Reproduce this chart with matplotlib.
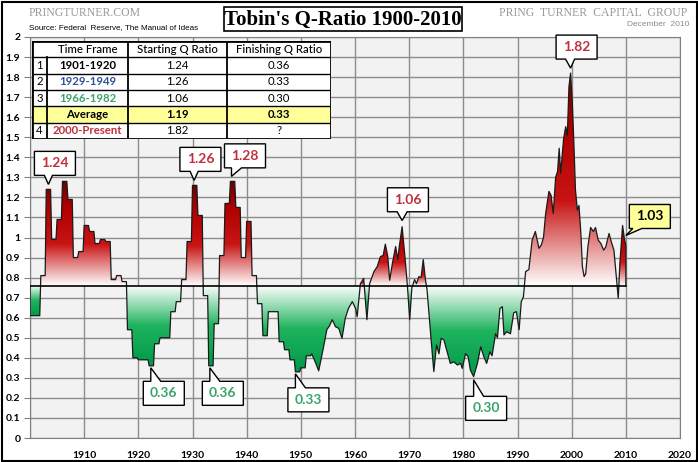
import numpy as np
import matplotlib
matplotlib.use("Agg")
import matplotlib.pyplot as plt
from matplotlib.colors import LinearSegmentedColormap
from matplotlib.patches import Rectangle, Polygon

plt.rcParams['font.family'] = ['Lato', 'DejaVu Sans']

# годовые значения Q, 1900-1951
annual_years = np.arange(1900, 1952)
annual_q = [0.61, 0.61, 0.81, 1.24, 0.99, 1.09, 1.28, 1.19, 0.90, 0.93,
            1.06, 1.03, 0.97, 0.99, 0.98, 0.79, 0.81, 0.78, 0.54, 0.40,
            0.39, 0.39, 0.36, 0.47, 0.50, 0.50, 0.63, 0.68, 0.79, 0.98,
            1.26, 1.11, 0.71, 0.36, 0.57, 0.91, 1.17, 1.28, 1.15, 0.90,
            1.08, 0.81, 0.67, 0.51, 0.63, 0.63, 0.48, 0.44, 0.39, 0.33,
            0.35, 0.41]

# более частые значения, 1952-2010
recent_years = [1952.0, 1952.5, 1953.3, 1954.2, 1954.8, 1955.3, 1955.8, 1956.4, 1957.0, 1957.6,
                1958.2, 1958.8, 1959.5, 1960.1, 1960.4, 1961.0, 1961.6, 1962.2, 1962.7, 1963.5,
                1964.1, 1964.7, 1965.2, 1965.6, 1966.05, 1966.4, 1966.9, 1967.5, 1967.9, 1968.15,
                1968.7, 1969.3, 1969.7, 1970.1, 1970.5, 1971.0, 1971.35, 1971.8, 1972.2, 1972.6,
                1973.0, 1973.3, 1973.9, 1974.55, 1975.05, 1975.5, 1975.9, 1976.4, 1977.0, 1977.6,
                1978.25, 1978.9, 1979.5, 1979.8, 1980.4, 1980.9, 1981.3, 1981.9, 1982.6, 1983.2,
                1983.8, 1984.3, 1984.9, 1985.3, 1985.95, 1986.3, 1986.75, 1987.2, 1987.5, 1988.0,
                1988.7, 1989.3, 1989.8, 1990.3, 1990.7, 1991.1, 1991.5, 1992.1, 1992.7, 1993.3,
                1993.96, 1994.4, 1994.8, 1995.2, 1995.8, 1996.2, 1996.6, 1997.04, 1997.4, 1997.7,
                1997.97, 1998.5, 1998.9, 1999.2, 1999.5, 1999.8, 2000.1, 2000.4, 2000.7, 2001.05,
                2001.35, 2001.7, 2001.98, 2002.3, 2002.6, 2003.0, 2003.5, 2004.0, 2004.4, 2004.9,
                2005.4, 2005.9, 2006.3, 2006.9, 2007.3, 2007.8, 2008.3, 2008.6, 2008.9, 2009.4,
                2009.7, 2010.0]
recent_q = [0.42, 0.39, 0.335, 0.455, 0.54, 0.56, 0.59, 0.555, 0.547, 0.497,
            0.597, 0.647, 0.68, 0.647, 0.605, 0.77, 0.796, 0.59, 0.77, 0.83,
            0.855, 0.905, 0.91, 0.967, 0.905, 0.787, 0.87, 0.955, 0.89, 0.95,
            1.054, 0.88, 0.75, 0.59, 0.75, 0.79, 0.77, 0.805, 0.80, 0.89,
            0.79, 0.74, 0.54, 0.331, 0.464, 0.42, 0.497, 0.49, 0.43, 0.372,
            0.38, 0.364, 0.372, 0.347, 0.42, 0.405, 0.339, 0.306, 0.372, 0.455,
            0.405, 0.372, 0.43, 0.41, 0.52, 0.50, 0.646, 0.655, 0.514, 0.53,
            0.52, 0.625, 0.63, 0.54, 0.68, 0.705, 0.83, 0.84, 0.987, 1.03,
            0.946, 0.963, 1.0, 1.12, 1.23, 1.21, 1.12, 1.30, 1.33, 1.445,
            1.32, 1.49, 1.553, 1.51, 1.753, 1.82, 1.685, 1.478, 1.237, 1.137,
            1.16, 1.02, 0.855, 0.805, 0.82, 0.955, 1.05, 1.03, 1.05, 0.987,
            0.97, 0.937, 0.953, 1.02, 0.98, 0.937, 0.788, 0.697, 0.87, 1.06,
            1.0, 0.96]

baseline = 0.76

# подписи-выноски
peak_years = [1903.4, 1930.3, 1937.2, 1968.7, 1999.8]
peak_values = [1.24, 1.26, 1.28, 1.06, 1.82]
trough_years = [1922.3, 1933.2, 1949.0, 1981.9]
trough_values = [0.36, 0.36, 0.33, 0.30]
last_year, last_value = 2010.0, 1.03

# таблица
row_nums = ['1', '2', '3', '', '4']
periods = ['1901-1920', '1929-1949', '1966-1982', 'Average', '2000-Present']
start_q = ['1.24', '1.26', '1.06', '1.19', '1.82']
finish_q = ['0.36', '0.33', '0.30', '0.33', '?']
period_colors = ['black', '#2f5597', '#3aa36a', 'black', '#c0303c']

W, H = 698, 462
fig = plt.figure(figsize=(W / 100, H / 100), dpi=100)
ax = fig.add_axes([30 / W, 1 - 438 / H, 650 / W, 401 / H])
ax.set_facecolor('#f2f2f2')

# ступеньки для годовых данных
xs = np.column_stack([annual_years, annual_years + 0.8]).ravel()
ys = np.repeat(annual_q, 2)
xs = np.concatenate([[1900], xs, recent_years, [2010]])
ys = np.concatenate([[baseline], ys, recent_q, [baseline]])

reds = LinearSegmentedColormap.from_list('r', [(0, '#ffffff'), (0.4, '#c81414'), (0.75, '#b00000'), (1, '#6e0000')])
greens = LinearSegmentedColormap.from_list('g', [(0, '#ffffff'), (0.5, '#1fb35e'), (1, '#00994a')])
grad = np.linspace(0, 1, 256).reshape(-1, 1)

up = ax.fill_between(xs, ys, baseline, where=ys >= baseline, interpolate=True)
for p in up.get_paths():
    e = p.get_extents()
    im = ax.imshow(grad, extent=[e.x0, e.x1, baseline, e.y1], origin='lower', cmap=reds,
                   aspect='auto', zorder=2, interpolation='bilinear')
    im.set_clip_path(p, transform=ax.transData)
up.remove()
down = ax.fill_between(xs, ys, baseline, where=ys <= baseline, interpolate=True)
for p in down.get_paths():
    e = p.get_extents()
    im = ax.imshow(grad, extent=[e.x0, e.x1, e.y0, baseline], origin='upper', cmap=greens,
                   aspect='auto', zorder=2, interpolation='bilinear')
    im.set_clip_path(p, transform=ax.transData)
down.remove()

ax.plot(xs, ys, color='#1a1a1a', lw=0.9, zorder=3)
ax.plot([1900, 2010], [baseline, baseline], color='black', lw=1.2, zorder=3)

ax.set_xlim(1900, 2020)
ax.set_ylim(0, 2)
yt = np.round(np.arange(0, 2.01, 0.1), 1)
ax.set_yticks(yt)
ax.set_yticklabels([f'{v:g}' for v in yt], fontweight='bold', fontsize=7.5)
xt = np.arange(1910, 2021, 10)
ax.set_xticks(np.arange(1900, 2021, 10))
ax.set_xticklabels([''] + [str(v) for v in xt], fontweight='bold', fontsize=7.5)
ax.tick_params(axis='y', length=4, pad=3, color='#808080')
ax.tick_params(axis='x', length=0, pad=9)
ax.grid(color='#8c8c8c', lw=1, zorder=0)
ax.set_axisbelow(True)
for s in ax.spines.values():
    s.set_color('#808080')

# выноски
to_fig = fig.transFigure.inverted()


def callout(year, value, text, dx, dy, b1, b2, gap, fc='white', tc='black', w=41, h=24):
    tx, ty = ax.transData.transform((year, value))
    below = dy > 0
    ty = ty - gap if below else ty + gap
    cx, cy = tx + dx, ty - dy
    L, R, T, B = cx - w / 2, cx + w / 2, cy + h / 2, cy - h / 2
    if below:
        verts = [(L, B), (R, B), (R, T), (tx + b2, T), (tx, ty), (tx + b1, T), (L, T)]
    else:
        verts = [(L, T), (R, T), (R, B), (tx + b2, B), (tx, ty), (tx + b1, B), (L, B)]
    verts = to_fig.transform(verts)
    fig.add_artist(Polygon(verts, closed=True, transform=fig.transFigure, fc=fc, ec='black',
                           lw=1, zorder=5))
    c = to_fig.transform((cx, cy))
    fig.text(c[0], c[1], text, ha='center', va='center', fontsize=10, fontweight='bold',
             color=tc, zorder=6)


peak_layout = [(6.5, -21, -4, 4), (6.3, -21, -4, 4), (13.5, -20.5, 0, 10), (5.8, -20.7, -5, 5), (6, -21, -5, 4)]
for yr, v, (dx, dy, b1, b2) in zip(peak_years, peak_values, peak_layout):
    callout(yr, v, f'{v:.2f}', dx, dy, b1, b2, 5, tc='#c0303c')
trough_layout = [(13, 25.5), (13, 25.5), (13, 26), (12.5, 28.5)]
for yr, v, (dx, dy) in zip(trough_years, trough_values, trough_layout):
    callout(yr, v, f'{v:.2f}', dx, dy, 0, 10, 2, tc='#3aa36a')
callout(last_year, last_value, f'{last_value:.2f}', 24, -19, 7, 16, -4, fc='#ffff99')

# таблица
tab = fig.add_axes([32 / W, 1 - 139 / H, 299 / W, 98 / H])
tab.set_xlim(32, 331)
tab.set_ylim(139, 41)
tab.axis('off')
cols = [32, 47, 128, 227, 331]
rows = np.linspace(41, 139, 7)
tab.add_patch(Rectangle((32, 41), 299, 98, fc='white', ec='none'))
tab.add_patch(Rectangle((32, rows[4]), 299, rows[5] - rows[4], fc='#ffff99', ec='none'))
for r in rows[1:-1]:
    tab.plot([32, 331], [r, r], color='black', lw=1)
for c in cols[2:4]:
    tab.plot([c, c], [41, 139], color='black', lw=1.3)
tab.plot([47, 47], [rows[1], 139], color='black', lw=1.3)
tab.add_patch(Rectangle((32, 41), 299, 98, fill=False, ec='black', lw=2))
fs = 8.2
mid = (rows[:-1] + rows[1:]) / 2
tab.text(87.5, mid[0], 'Time Frame', ha='center', va='center', fontsize=fs, fontweight='medium')
tab.text(177.5, mid[0], 'Starting Q Ratio', ha='center', va='center', fontsize=fs, fontweight='medium')
tab.text(279, mid[0], 'Finishing Q Ratio', ha='center', va='center', fontsize=fs, fontweight='medium')
for i in range(5):
    bold = 'bold' if periods[i] == 'Average' else 'normal'
    tab.text(39.5, mid[i + 1], row_nums[i], ha='center', va='center', fontsize=fs)
    tab.text(87.5, mid[i + 1], periods[i], ha='center', va='center', fontsize=fs,
             fontweight='bold', color=period_colors[i])
    tab.text(177.5, mid[i + 1], start_q[i], ha='center', va='center', fontsize=fs, fontweight=bold)
    tab.text(279, mid[i + 1], finish_q[i], ha='center', va='center', fontsize=fs, fontweight=bold)

# заголовки и подписи
fig.add_artist(Rectangle((224 / W, 1 - 31 / H), 238 / W, 24 / H, transform=fig.transFigure,
                         fc='white', ec='black', lw=1.2))
fig.text(343 / W, 1 - 19.5 / H, "Tobin's Q-Ratio 1900-2010", ha='center', va='center',
         fontsize=15, fontweight='bold', family='Liberation Serif')
fig.text(29 / W, 1 - 13.5 / H, 'PRINGTURNER.COM', ha='left', va='center', fontsize=8.5,
         color='#9a9a9a', family='Liberation Serif')
fig.text(29 / W, 1 - 28 / H, 'Source: Federal  Reserve, The Manual of Ideas', ha='left', va='center',
         fontsize=5.8, family='Liberation Sans')
fig.text(687 / W, 1 - 13.5 / H, 'PRING  TURNER  CAPITAL  GROUP', ha='right', va='center', fontsize=8.5,
         color='#9a9a9a', family='Liberation Serif')
fig.text(689 / W, 1 - 25 / H, 'December  2010', ha='right', va='center', fontsize=6,
         color='#8a8a8a', family='Liberation Sans')
fig.add_artist(Rectangle((1.5 / W, 1.5 / H), 695 / W, 459 / H, transform=fig.transFigure,
                         fill=False, ec='black', lw=1.5))

fig.savefig('out.png', dpi=100)
